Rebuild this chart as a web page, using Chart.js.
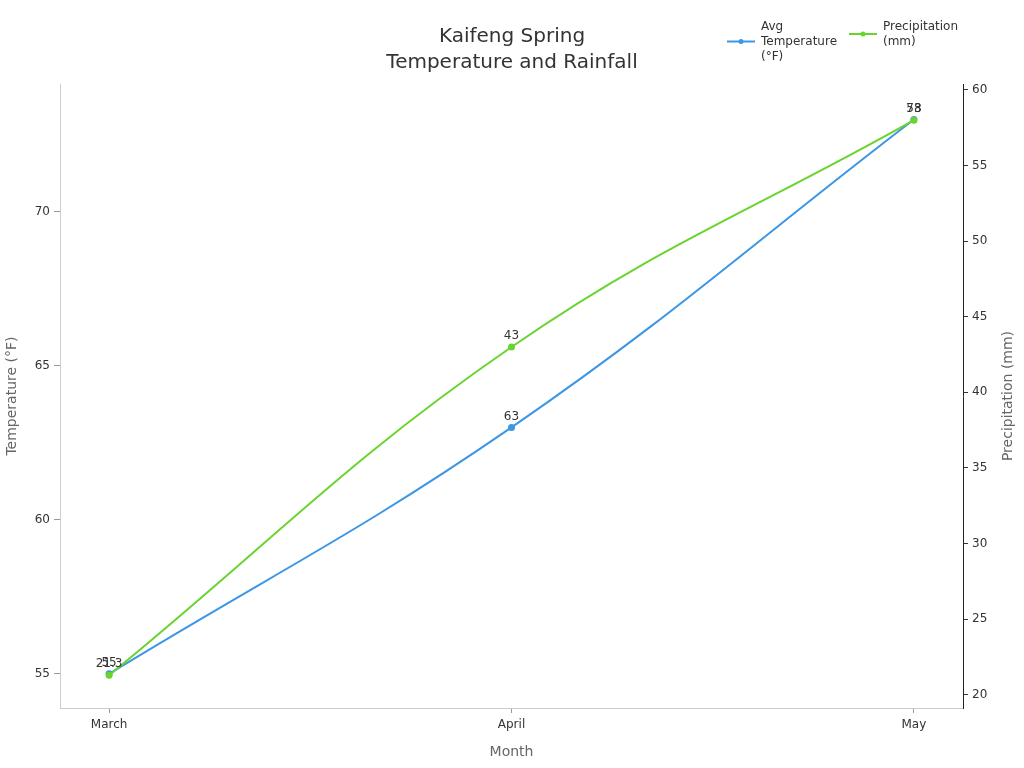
<!DOCTYPE html>
<html>
<head>
<meta charset="utf-8">
<title>Kaifeng Spring Temperature and Rainfall</title>
<script src="https://cdn.jsdelivr.net/npm/chart.js@4.4.1/dist/chart.umd.min.js"></script>
<style>
  html, body { margin: 0; padding: 0; background: #fff; }
  #wrap { width: 1024px; height: 768px; }
</style>
</head>
<body>
<div id="wrap"><canvas id="chart" width="1024" height="768"></canvas></div>
<script>
// data
const months = ['March', 'April', 'May'];
const avgTemp = [55, 63, 73];
const precipitation = [21.3, 43, 58];
const tempTicks = [55, 60, 65, 70];
const precipTicks = [20, 25, 30, 35, 40, 45, 50, 55, 60];

const FONT = "'DejaVu Sans', sans-serif";
const BLUE = '#3b96e6';
const GREEN = '#6ad42f';

// value labels above each point
const pointLabels = {
  id: 'pointLabels',
  afterDatasetsDraw(chart) {
    const ctx = chart.ctx;
    ctx.save();
    ctx.font = '12px ' + FONT;
    ctx.fillStyle = '#333';
    ctx.textAlign = 'center';
    ctx.textBaseline = 'bottom';
    chart.data.datasets.forEach((ds, i) => {
      chart.getDatasetMeta(i).data.forEach((pt, j) => {
        ctx.fillText(String(ds.data[j].y), pt.x, pt.y - 5);
      });
    });
    ctx.restore();
  }
};

// right axis title reads bottom-to-top like the left one
const rightTitle = {
  id: 'rightTitle',
  afterDraw(chart) {
    const ctx = chart.ctx;
    const area = chart.chartArea;
    ctx.save();
    ctx.font = '14px ' + FONT;
    ctx.fillStyle = '#666';
    ctx.textAlign = 'center';
    ctx.textBaseline = 'middle';
    ctx.translate(1008, (area.top + area.bottom) / 2);
    ctx.rotate(-Math.PI / 2);
    ctx.fillText('Precipitation (mm)', 0, 0);
    ctx.restore();
  }
};

// small wrapped legend in the top right corner
function wrapText(ctx, text, maxWidth) {
  const words = text.split(' ');
  const lines = [];
  let line = '';
  words.forEach(w => {
    const test = line ? line + ' ' + w : w;
    if (ctx.measureText(test).width > maxWidth && line) {
      lines.push(line);
      line = w;
    } else {
      line = test;
    }
  });
  if (line) lines.push(line);
  return lines;
}

const cornerLegend = {
  id: 'cornerLegend',
  afterDraw(chart) {
    const ctx = chart.ctx;
    const startX = [727, 849];
    const top = 19;
    const lineH = 15;
    ctx.save();
    ctx.font = '12px ' + FONT;
    chart.data.datasets.forEach((ds, i) => {
      const lines = wrapText(ctx, ds.label, 80);
      const x = startX[i];
      const midY = top + lines.length * lineH / 2;
      ctx.strokeStyle = ds.borderColor;
      ctx.lineWidth = 2;
      ctx.beginPath();
      ctx.moveTo(x, midY);
      ctx.lineTo(x + 28, midY);
      ctx.stroke();
      ctx.fillStyle = ds.borderColor;
      ctx.beginPath();
      ctx.arc(x + 14, midY, 2.5, 0, Math.PI * 2);
      ctx.fill();
      ctx.fillStyle = '#333';
      ctx.textAlign = 'left';
      ctx.textBaseline = 'middle';
      lines.forEach((l, k) => ctx.fillText(l, x + 34, top + lineH * k + lineH / 2 + 0.5));
    });
    ctx.restore();
  }
};

function toPoints(values) {
  return values.map((v, i) => ({ x: i, y: v }));
}

new Chart(document.getElementById('chart'), {
  type: 'line',
  data: {
    datasets: [
      {
        label: 'Avg Temperature (°F)',
        data: toPoints(avgTemp),
        yAxisID: 'yTemp',
        order: 1,
        borderColor: BLUE,
        backgroundColor: BLUE,
        borderWidth: 2,
        pointRadius: 2.5,
        pointHoverRadius: 2.5,
        tension: 0.4
      },
      {
        label: 'Precipitation (mm)',
        data: toPoints(precipitation),
        yAxisID: 'yRain',
        order: 0,
        borderColor: GREEN,
        backgroundColor: GREEN,
        borderWidth: 2,
        pointRadius: 2.5,
        pointHoverRadius: 2.5,
        tension: 0.4
      }
    ]
  },
  options: {
    responsive: false,
    animation: false,
    layout: { padding: 0 },
    plugins: {
      legend: { display: false },
      tooltip: { enabled: false },
      title: {
        display: true,
        text: ['Kaifeng Spring', 'Temperature and Rainfall'],
        color: '#333',
        font: { family: FONT, size: 20, weight: 'normal', lineHeight: 1.3 },
        padding: { top: 24, bottom: 8 }
      }
    },
    scales: {
      x: {
        type: 'linear',
        min: -0.122,
        max: 2.122,
        afterBuildTicks: s => { s.ticks = months.map((_, i) => ({ value: i })); },
        afterFit: s => { s.height = 60; },
        ticks: {
          color: '#333',
          font: { family: FONT, size: 12 },
          padding: 5,
          callback: v => months[v]
        },
        grid: { drawOnChartArea: false, drawTicks: true, tickLength: 5, color: '#999' },
        border: { color: '#ccc' },
        title: {
          display: true,
          text: 'Month',
          color: '#666',
          font: { family: FONT, size: 14 },
          padding: { top: 4, bottom: 7 }
        }
      },
      yTemp: {
        type: 'linear',
        position: 'left',
        min: 53.89,
        max: 74.15,
        afterBuildTicks: s => { s.ticks = tempTicks.map(v => ({ value: v })); },
        afterFit: s => { s.width = 60; },
        ticks: { color: '#333', font: { family: FONT, size: 12 }, padding: 4 },
        grid: { drawOnChartArea: false, drawTicks: true, tickLength: 6, color: '#999' },
        border: { color: '#ccc' },
        title: {
          display: true,
          text: 'Temperature (°F)',
          color: '#666',
          font: { family: FONT, size: 14 }
        }
      },
      yRain: {
        type: 'linear',
        position: 'right',
        min: 19.13,
        max: 60.39,
        afterBuildTicks: s => { s.ticks = precipTicks.map(v => ({ value: v })); },
        afterFit: s => { s.width = 61; },
        ticks: { color: '#333', font: { family: FONT, size: 12 }, padding: 4 },
        grid: { drawOnChartArea: false, drawTicks: true, tickLength: 5, color: '#333' },
        border: { color: '#222' },
        title: { display: false }
      }
    }
  },
  plugins: [pointLabels, rightTitle, cornerLegend]
});
</script>
</body>
</html>
